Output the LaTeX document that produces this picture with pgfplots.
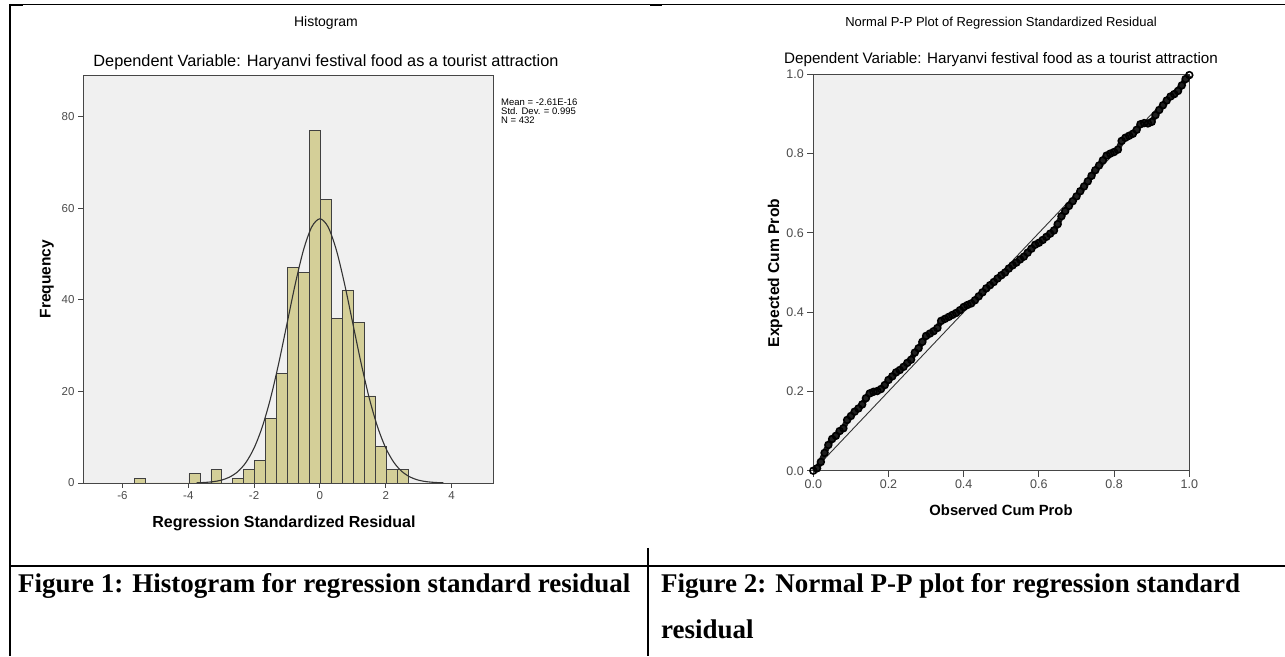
\documentclass[border=0pt]{standalone}
\usepackage{fontspec}
\setmainfont{Liberation Sans}
\newfontfamily\capfont{Liberation Serif}
\usepackage{pgfplots}
\pgfplotsset{compat=1.18}
\definecolor{bggray}{RGB}{240,240,240}
\definecolor{barcol}{RGB}{212,207,152}
\definecolor{framecol}{RGB}{70,70,70}
\definecolor{tickcol}{RGB}{75,75,75}
\newcommand{\fs}[1]{\fontsize{#1}{#1}\selectfont}
\begin{document}
\begin{tikzpicture}[x=1pt,y=1pt]
\useasboundingbox (0,0) rectangle (1285,656);
\fill[white] (0,0) rectangle (1285,656);

% ---------- Histogram ----------
\begin{axis}[
  at={(83pt,173pt)}, anchor=south west, scale only axis,
  width=410pt, height=408pt,
  xmin=-7.20, xmax=5.26, ymin=0, ymax=89.1,
  axis background/.style={fill=bggray},
  axis line style={draw=framecol, line width=0.9pt},
  xtick={-6,-4,-2,0,2,4}, ytick={0,20,40,60,80},
  tick align=outside, tick pos=left, major tick length=5pt,
  tick style={draw=framecol, line width=0.9pt},
  /pgf/number format/assume math mode=true,
  ticklabel style={font=\fs{11.5}, text=tickcol},
]
\addplot[ybar interval, fill=barcol, draw=black!75, line width=0.8pt] coordinates {
(-5.647,1) (-5.313,0) (-4.980,0) (-4.647,0) (-4.313,0) (-3.980,2) (-3.647,0)
(-3.313,3) (-2.980,0) (-2.647,1) (-2.313,3) (-1.980,5) (-1.647,14) (-1.313,24)
(-0.980,47) (-0.647,46) (-0.313,77) (0.020,62) (0.353,36) (0.687,42) (1.020,35)
(1.353,19) (1.687,8) (2.020,3) (2.353,3) (2.687,3)
};
\addplot[smooth, draw=black!80, line width=1.1pt] coordinates {
(-3.75,0.05) (-3.5,0.12) (-3.25,0.28) (-3.0,0.61) (-2.75,1.27) (-2.5,2.46)
(-2.25,4.47) (-2.0,7.65) (-1.75,12.29) (-1.5,18.52) (-1.25,26.21) (-1.0,34.82)
(-0.75,43.43) (-0.5,50.86) (-0.25,55.9) (0,57.7) (0.25,55.9) (0.5,50.86)
(0.75,43.43) (1.0,34.82) (1.25,26.21) (1.5,18.52) (1.75,12.29) (2.0,7.65)
(2.25,4.47) (2.5,2.46) (2.75,1.27) (3.0,0.61) (3.25,0.28) (3.5,0.12) (3.75,0.05)
};
\end{axis}

% ---------- P-P plot ----------
\begin{axis}[
  at={(813.3pt,185.3pt)}, anchor=south west, scale only axis,
  width=376pt, height=396.4pt,
  xmin=0, xmax=1, ymin=0, ymax=1, clip=false,
  axis background/.style={fill=bggray},
  axis line style={draw=framecol, line width=0.9pt},
  xtick={0,0.2,0.4,0.6,0.8,1.0}, ytick={0,0.2,0.4,0.6,0.8,1.0},
  tick align=outside, tick pos=left, major tick length=6pt,
  tick style={draw=framecol, line width=0.9pt},
  /pgf/number format/assume math mode=true,
  /pgf/number format/.cd, fixed, fixed zerofill, precision=1, /pgfplots/.cd,
  ticklabel style={font=\fs{12.5}, text=tickcol},
]
\addplot[draw=black!80, line width=0.9pt] coordinates {(0,0) (1,1)};
\addplot[draw=black!88, line width=5.5pt, mark=o, mark size=3.4pt,
  mark options={draw=black, line width=1.6pt, fill=none}] coordinates {
(0.00,0.000) (0.01,0.006) (0.02,0.022) (0.03,0.045) (0.04,0.065) (0.05,0.080)
(0.06,0.088) (0.07,0.100) (0.08,0.107) (0.09,0.128) (0.10,0.138) (0.11,0.149)
(0.12,0.157) (0.13,0.167) (0.14,0.183) (0.15,0.195) (0.16,0.199) (0.17,0.201)
(0.18,0.206) (0.19,0.216) (0.20,0.229) (0.21,0.238) (0.22,0.248) (0.23,0.254)
(0.24,0.262) (0.25,0.272) (0.26,0.280) (0.27,0.298) (0.28,0.309) (0.29,0.325)
(0.30,0.340) (0.31,0.346) (0.32,0.352) (0.33,0.360) (0.34,0.378) (0.35,0.383)
(0.36,0.388) (0.37,0.393) (0.38,0.398) (0.39,0.405) (0.40,0.413) (0.41,0.418)
(0.42,0.422) (0.43,0.430) (0.44,0.440) (0.45,0.450) (0.46,0.460) (0.47,0.468)
(0.48,0.476) (0.49,0.485) (0.50,0.493) (0.51,0.500) (0.52,0.510) (0.53,0.518)
(0.54,0.525) (0.55,0.533) (0.56,0.540) (0.57,0.550) (0.58,0.560) (0.59,0.570)
(0.60,0.575) (0.61,0.582) (0.62,0.590) (0.63,0.598) (0.64,0.606) (0.65,0.622)
(0.66,0.642) (0.67,0.655) (0.68,0.668) (0.69,0.680) (0.70,0.692) (0.71,0.705)
(0.72,0.717) (0.73,0.730) (0.74,0.744) (0.75,0.758) (0.76,0.770) (0.77,0.783)
(0.78,0.795) (0.79,0.800) (0.80,0.804) (0.81,0.810) (0.82,0.832) (0.83,0.840)
(0.84,0.845) (0.85,0.850) (0.86,0.860) (0.87,0.874) (0.88,0.877) (0.89,0.876)
(0.90,0.880) (0.91,0.897) (0.92,0.910) (0.93,0.922) (0.94,0.934) (0.95,0.944)
(0.96,0.950) (0.97,0.958) (0.98,0.972) (0.99,0.988) (1.00,0.998)
};
\end{axis}

% ---------- texts ----------
\node[font=\fs{14}] at (326,633) {Histogram};
\node[font=\fs{16.3}] at (326,594) {Dependent Variable: Haryanvi festival food as a tourist attraction};
\node[font=\fs{9.5}, anchor=base west, inner sep=0] at (501,550) {Mean = -2.61E-16};
\node[font=\fs{9.5}, anchor=base west, inner sep=0] at (501,541) {Std. Dev. = 0.995};
\node[font=\fs{9.5}, anchor=base west, inner sep=0] at (501,532) {N = 432};
\node[font=\fs{15.5}\bfseries, rotate=90] at (47,377) {Frequency};
\node[font=\fs{16}\bfseries] at (284,133) {Regression Standardized Residual};

\node[font=\fs{13}] at (1001,633) {Normal P-P Plot of Regression Standardized Residual};
\node[font=\fs{15.2}] at (1001,596) {Dependent Variable: Haryanvi festival food as a tourist attraction};
\node[font=\fs{15.6}\bfseries, rotate=90] at (775,383) {Expected Cum Prob};
\node[font=\fs{14.8}\bfseries] at (1001,146) {Observed Cum Prob};

% ---------- table lines ----------
\draw[line width=1pt] (9,651.5) -- (1285,651.5);
\draw[line width=2pt] (9,651) -- (23,651);
\draw[line width=2pt] (650,651) -- (662,651);
\draw[line width=2pt] (10,652) -- (10,0);
\draw[line width=2pt] (9,90) -- (1285,90);
\draw[line width=1.5pt] (648,108) -- (648,0);

% ---------- captions ----------
\node[font=\capfont\bfseries\fs{27}, anchor=base west, inner sep=0] at (18,63.3) {Figure 1: Histogram for regression standard residual};
\node[font=\capfont\bfseries\fs{27}, anchor=base west, inner sep=0] at (661,63.3) {Figure 2: Normal P-P plot for regression standard};
\node[font=\capfont\bfseries\fs{27}, anchor=base west, inner sep=0] at (661,17.7) {residual};
\end{tikzpicture}
\end{document}
